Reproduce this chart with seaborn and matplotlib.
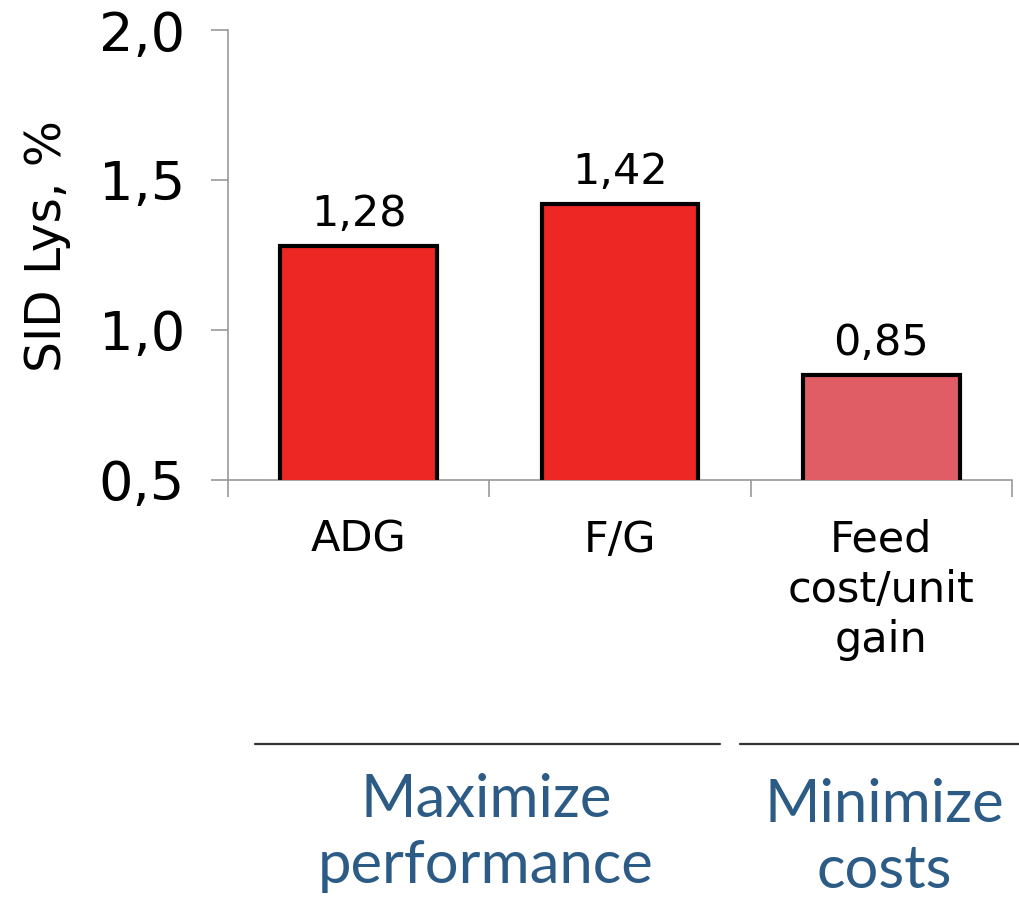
import matplotlib
matplotlib.use("Agg")
import matplotlib.pyplot as plt
import seaborn as sns
import pandas as pd
from matplotlib.ticker import FixedLocator

# Optimal SID lysine level per response criterion
categories = ["ADG", "F/G", "Feed\ncost/unit\ngain"]
sid_lys = [1.28, 1.42, 0.85]
bar_colors = ["#EC2724", "#EC2724", "#E05D66"]
y_ticks = [0.5, 1.0, 1.5, 2.0]
y_tick_labels = ["0,5", "1,0", "1,5", "2,0"]
groups = ["Maximize\nperformance", "Minimize\ncosts"]

sns.set_theme(style="white")
plt.rcParams["font.family"] = ["DejaVu Sans"]

df = pd.DataFrame({"criterion": categories, "lys": sid_lys})

fig = plt.figure(figsize=(10.19, 9.01), dpi=100)
ax = fig.add_axes([0.2237, 0.4673, 0.7693, 0.4994])

sns.barplot(data=df, x="criterion", y="lys", hue="criterion",
            palette=bar_colors, saturation=1, legend=False, width=0.6,
            edgecolor="black", linewidth=3, ax=ax, zorder=3)

ax.set_ylim(0.5, 2.0)
ax.set_xlim(-0.5, 2.5)
ax.yaxis.set_major_locator(FixedLocator(y_ticks))
ax.set_yticklabels(y_tick_labels)
ax.tick_params(axis="y", labelsize=39, length=12, width=1.2,
               color="#999999", direction="out", left=True, pad=19,
               labelcolor="black")

ax.set_xticks(range(len(categories)))
ax.set_xticklabels(categories, fontsize=31, linespacing=1.25,
                   va="top")
ax.tick_params(axis="x", which="major", length=0, pad=28,
               labelcolor="black")
ax.set_xticks([-0.5, 0.5, 1.5, 2.5], minor=True)
ax.tick_params(axis="x", which="minor", length=12, width=1.2,
               color="#999999", direction="out", bottom=True)

for side in ["top", "right"]:
    ax.spines[side].set_visible(False)
for side in ["left", "bottom"]:
    ax.spines[side].set_color("#999999")
    ax.spines[side].set_linewidth(1.2)

ax.set_ylabel("SID Lys, %", fontsize=35, labelpad=20, color="black")
ax.yaxis.label.set_y(0.52)
ax.set_xlabel("")

# Value labels above bars
for i, v in enumerate(sid_lys):
    ax.text(i, v + 0.035, f"{v:.2f}".replace(".", ","), ha="center",
            va="bottom", fontsize=31, color="black")

# Group brackets and labels below the axis
fig.add_artist(plt.Line2D([255 / 1019, 720 / 1019], [1 - 744 / 901, 1 - 744 / 901],
                          color="#333333", lw=1.6))
fig.add_artist(plt.Line2D([740 / 1019, 1019 / 1019], [1 - 744 / 901, 1 - 744 / 901],
                          color="#333333", lw=1.6))
fig.text(486 / 1019, 1 - 833 / 901, groups[0], ha="center", va="center",
         fontsize=43, color="#2C5C85", family=["Lato", "DejaVu Sans"],
         linespacing=1.28)
fig.text(884 / 1019, 1 - 838 / 901, groups[1], ha="center", va="center",
         fontsize=43, color="#2C5C85", family=["Lato", "DejaVu Sans"],
         linespacing=1.28)

fig.savefig("out.png", dpi=100, facecolor="white")
